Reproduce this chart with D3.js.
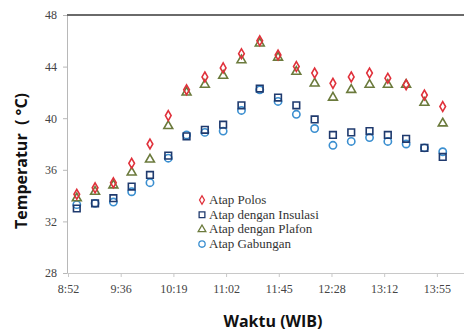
<!DOCTYPE html>
<html>
<head>
<meta charset="utf-8">
<script src="https://cdn.jsdelivr.net/npm/d3@7"></script>
<style>
  body { margin: 0; background: #fff; }
  svg { display: block; }
</style>
</head>
<body>
<div id="main"></div>
<script>
const ctx = {
    w: 464,
    h: 334,
    left: 67,
    top: 15,
    bottom: 273,
    xEnd: 472,
};

// measurement times, minutes after midnight (09:00 .. 14:00 every 15 min)
const TIMES = [540, 555, 570, 585, 600, 615, 630, 645, 660, 675, 690, 705, 720, 735, 750, 765, 780, 795, 810, 825, 840];

const POLOS = [34.1, 34.6, 35.0, 36.5, 38.0, 40.2, 42.2, 43.2, 43.9, 45.0, 46.0, 44.9, 44.0, 43.5, 42.7, 43.2, 43.5, 43.1, 42.6, 41.8, 40.9];
const INSULASI = [33.0, 33.4, 33.8, 34.7, 35.6, 37.1, 38.6, 39.1, 39.5, 41.0, 42.3, 41.6, 41.0, 39.9, 38.7, 38.9, 39.0, 38.7, 38.4, 37.7, 37.0];
const PLAFON = [33.8, 34.3, 34.8, 35.8, 36.8, 39.4, 42.0, 42.6, 43.3, 44.5, 45.8, 44.7, 43.6, 42.7, 41.6, 42.2, 42.6, 42.6, 42.6, 41.2, 39.6];
const GABUNGAN = [33.3, 33.4, 33.5, 34.3, 35.0, 36.9, 38.7, 38.9, 39.0, 40.6, 42.2, 41.3, 40.3, 39.2, 37.9, 38.2, 38.5, 38.2, 38.0, 37.7, 37.4];

const Y_TICKS = [28, 32, 36, 40, 44, 48];
const X_TICKS = [532.8, 576, 619.2, 662.4, 705.6, 748.8, 792, 835.2];
const X_LABELS = ["8:52", "9:36", "10:19", "11:02", "11:45", "12:28", "13:12", "13:55"];

const SERIES = [
    { name: "Atap Polos", values: POLOS, symbol: d3.symbolDiamond, color: "#e0313b", size: 28 },
    { name: "Atap dengan Insulasi", values: INSULASI, symbol: d3.symbolSquare, color: "#1f3a6e", size: 44 },
    { name: "Atap dengan Plafon", values: PLAFON, symbol: d3.symbolTriangle, color: "#6b7a3c", size: 34 },
    { name: "Atap Gabungan", values: GABUNGAN, symbol: d3.symbolCircle, color: "#3b8fd0", size: 42 },
];
// draw order so that red/green sit on top like the original
const DRAW_ORDER = [3, 1, 2, 0];

function createViz() {
    let svgEl = d3.select("#main").append("svg")
        .attr("width", ctx.w)
        .attr("height", ctx.h);

    let x = d3.scaleLinear().domain([532.8, 864]).range([68, ctx.xEnd]);
    let y = d3.scaleLinear().domain([28, 48]).range([ctx.bottom, ctx.top]);

    // left axis
    let yAxis = svgEl.append("g")
        .attr("transform", `translate(${ctx.left},0)`)
        .call(d3.axisLeft(y).tickValues(Y_TICKS).tickSize(4).tickPadding(6));
    yAxis.select(".domain").attr("stroke", "#b8b8b8");
    yAxis.selectAll(".tick line").attr("stroke", "#b8b8b8");
    yAxis.selectAll("text")
        .attr("font-family", "Liberation Serif")
        .attr("font-size", 12)
        .attr("fill", "#444");

    // bottom axis
    let xAxis = svgEl.append("g")
        .attr("transform", `translate(0,${ctx.bottom})`)
        .call(d3.axisBottom(x).tickValues(X_TICKS).tickSize(4).tickPadding(7)
            .tickFormat((d, i) => X_LABELS[i]));
    xAxis.select(".domain").attr("stroke", "#c8c8c8");
    xAxis.selectAll(".tick line").attr("stroke", "#c8c8c8");
    xAxis.selectAll("text")
        .attr("font-family", "Liberation Serif")
        .attr("font-size", 12)
        .attr("fill", "#444");

    // top border
    svgEl.append("line")
        .attr("x1", ctx.left).attr("x2", ctx.w)
        .attr("y1", ctx.top).attr("y2", ctx.top)
        .attr("stroke", "#6a6a6a")
        .attr("stroke-width", 2);

    // markers
    DRAW_ORDER.forEach(function (k) {
        let s = SERIES[k];
        svgEl.append("g")
            .selectAll("path")
            .data(s.values)
            .enter()
            .append("path")
            .attr("transform", (d, i) => `translate(${x(TIMES[i])},${y(d)})`)
            .attr("d", d3.symbol().type(s.symbol).size(s.size))
            .attr("fill", "none")
            .attr("stroke", s.color)
            .attr("stroke-width", 1.6);
    });

    // legend
    let legendG = svgEl.append("g").attr("transform", "translate(202,200)");
    SERIES.forEach(function (s, i) {
        let row = legendG.append("g").attr("transform", `translate(0,${i * 14.7})`);
        row.append("path")
            .attr("d", d3.symbol().type(s.symbol).size(s.size * 0.75))
            .attr("fill", "none")
            .attr("stroke", s.color)
            .attr("stroke-width", 1.3);
        row.append("text")
            .attr("x", 7)
            .attr("y", 4)
            .attr("font-family", "Liberation Serif")
            .attr("font-size", 13)
            .attr("fill", "#333")
            .text(s.name);
    });

    // axis titles
    svgEl.append("text")
        .attr("x", 273)
        .attr("y", 327)
        .attr("text-anchor", "middle")
        .attr("font-family", "Open Sans")
        .attr("font-weight", "bold")
        .attr("font-size", 16)
        .attr("fill", "#111")
        .text("Waktu (WIB)");

    svgEl.append("text")
        .attr("transform", "translate(27,161) rotate(-90)")
        .attr("text-anchor", "middle")
        .attr("font-family", "Open Sans")
        .attr("font-weight", "bold")
        .attr("font-size", 16)
        .attr("fill", "#111")
        .text("Temperatur \u00a0( \u00b0C)");
}

createViz();
</script>
</body>
</html>
